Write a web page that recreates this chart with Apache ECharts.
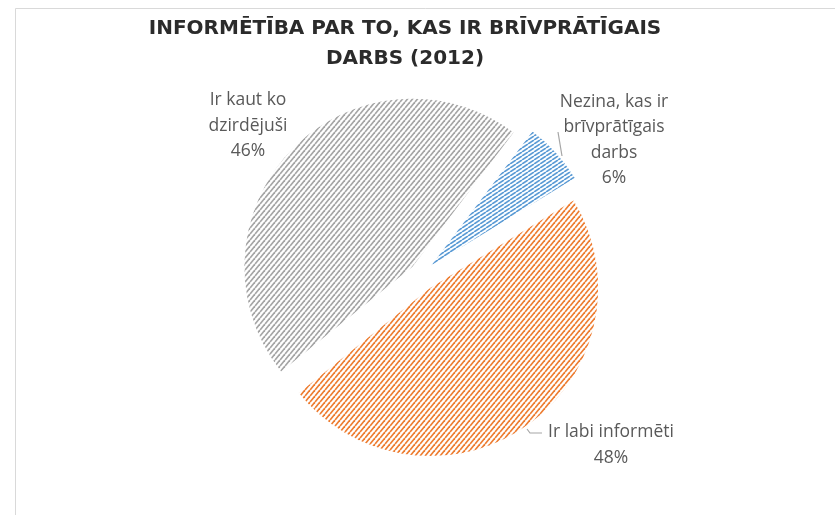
<!DOCTYPE html>
<html>
<head>
<meta charset="utf-8">
<title>Informētība par to, kas ir brīvprātīgais darbs (2012)</title>
<script src="https://cdn.jsdelivr.net/npm/echarts@6/dist/echarts.min.js"></script>
<style>
    html, body { margin: 0; padding: 0; background: #fff; }
    #main { width: 835px; height: 515px; }
</style>
</head>
<body>
<div id="main"></div>
<script>
// dati
const categories = ['Nezina, kas ir\nbrīvprātīgais\ndarbs', 'Ir labi informēti', 'Ir kaut ko\ndzirdējuši'];
const values = [6, 48, 46];
const colors = ['#5b9bd5', '#ed7d31', '#a5a5a5'];

// pie placement, and how far each slice is pulled out (px)
const pieCenter = [421, 275];
const pieRadius = 168;
const startAngle = 53;
const offsets = [14, 16, 12];
// label centres (px) and leader lines
const labelPos = [[614, 140], [611, 445], [248, 126]];
const labelLines = [
    [[562, 156], [560, 144], [558, 132]],
    [[527, 429], [530, 433], [542, 433]],
    null
];

// diagonal hatch tile
function hatch(color, w, h) {
    let c = document.createElement('canvas');
    c.width = w;
    c.height = h;
    let ctx = c.getContext('2d');
    ctx.fillStyle = '#fff';
    ctx.fillRect(0, 0, w, h);
    ctx.strokeStyle = color;
    ctx.lineWidth = 1.7;
    for (let k = -1; k <= 1; k++) {
        ctx.beginPath();
        ctx.moveTo(k * w, h);
        ctx.lineTo(k * w + w, 0);
        ctx.stroke();
    }
    return { image: c, repeat: 'repeat' };
}
const tiles = [hatch(colors[0], 6, 4), hatch(colors[1], 5, 6), hatch(colors[2], 5, 6)];

// centre of each pulled-out slice: move along the slice's middle direction
let total = values.reduce((a, b) => a + b, 0);
function explodedCenter(k) {
    let before = values.slice(0, k).reduce((a, b) => a + b, 0);
    let mid = (startAngle - (before + values[k] / 2) / total * 360) * Math.PI / 180;
    return [pieCenter[0] + Math.cos(mid) * offsets[k], pieCenter[1] - Math.sin(mid) * offsets[k]];
}

let myChart = echarts.init(document.getElementById('main'));

// one pie per slice so every slice can have its own explosion,
// all of them laid out from the same values
let series = categories.map((_, k) => ({
    name: 'Informētība',
    type: 'pie',
    center: explodedCenter(k),
    radius: pieRadius,
    startAngle: startAngle,
    clockwise: true,
    silent: true,
    emphasis: { disabled: true },
    itemStyle: { borderWidth: 0 },
    label: {
        formatter: '{b}\n{d}%',
        fontFamily: 'Open Sans',
        fontSize: 17.5,
        lineHeight: 25.5,
        color: '#595959',
        align: 'center'
    },
    labelLine: {
        lineStyle: { color: '#a6a6a6', width: 1.2 }
    },
    labelLayout: function(params) {
        let i = params.dataIndex;
        if (i !== k) return {};
        let res = {
            x: labelPos[i][0],
            y: labelPos[i][1],
            width: 220,
            align: 'center',
            verticalAlign: 'middle'
        };
        if (labelLines[i]) {
            res.labelLinePoints = labelLines[i];
        }
        return res;
    },
    data: categories.map((name, i) => ({
        name: name,
        value: values[i],
        itemStyle: { color: i === k ? tiles[i] : 'rgba(0,0,0,0)', borderWidth: 0 },
        label: { show: i === k },
        labelLine: { show: i === k && labelLines[i] !== null }
    }))
}));

let option = {
    backgroundColor: '#fff',
    animation: false,
    title: {
        text: 'INFORMĒTĪBA PAR TO, KAS IR BRĪVPRĀTĪGAIS\nDARBS (2012)',
        left: 400,
        top: 9,
        textAlign: 'center',
        textStyle: {
            fontFamily: 'DejaVu Sans',
            fontWeight: 'bold',
            fontSize: 20,
            lineHeight: 30,
            color: '#2b2b2b'
        }
    },
    graphic: [{
        type: 'rect',
        shape: { x: 15.5, y: 8.5, width: 900, height: 600 },
        style: { fill: 'none', stroke: '#d9d9d9', lineWidth: 1 },
        silent: true
    }],
    series: series
};

myChart.setOption(option);
</script>
</body>
</html>
